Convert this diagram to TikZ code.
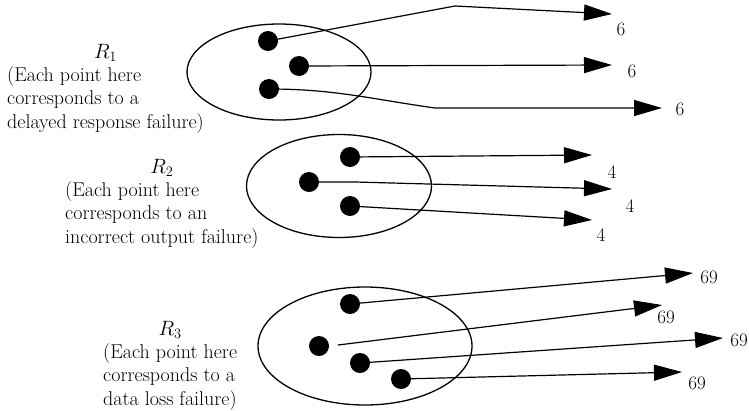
\documentclass[tikz,border=0pt]{standalone}
\usetikzlibrary{arrows.meta}
\usetikzlibrary{positioning}
\usetikzlibrary{shapes.geometric}
\tikzset{
  dot/.style={circle,fill,inner sep=0pt,minimum size=20pt},
  ell/.style={ellipse,draw,line width=1.3pt,inner sep=0pt},
  arr/.style={line width=1.2pt,-{Triangle[length=28pt,width=16pt]}},
  txt/.style={align=left,inner sep=0pt,font=\fontsize{20}{23.5}\selectfont},
  num/.style={inner sep=0pt,font=\fontsize{19}{20}\selectfont}
}
\begin{document}
\begin{tikzpicture}[x=1pt,y=-1pt]
    \useasboundingbox (0,0) rectangle (749,410);

    \node[txt,anchor=west] (t1) at (7,100) {(Each point here\\corresponds to a\\delayed response failure)};
    \node[txt,above=5pt of t1] (r1) {$R_1$};
    \node[ell,minimum width=184pt,minimum height=96pt] (e1) at (279,72) {};
    \node[dot] (d11) at (268,41) {};
    \node[dot] (d12) at (299,66) {};
    \node[dot] (d13) at (269,89) {};
    \coordinate (a11) at (612,14);
    \coordinate (a12) at (612,65);
    \coordinate (a13) at (662,108);
    \draw[arr] (d11.center) -- (455,6) -- (a11);
    \draw[arr] (d12.center) -- (a12);
    \draw[arr] (d13.center) to[out=0,in=172] (435,108) -- (a13);
    \node[num] (n11) at (621,29) {6};
    \node[num] (n12) at (632,71) {6};
    \node[num] (n13) at (680,109) {6};

    \node[txt,anchor=west] (t2) at (65,215) {(Each point here\\corresponds to an\\incorrect output failure)};
    \node[txt,above=5pt of t2] (r2) {$R_2$};
    \node[ell,minimum width=185pt,minimum height=103pt] (e2) at (339,186) {};
    \node[dot] (d21) at (350,157) {};
    \node[dot] (d22) at (309,182) {};
    \node[dot] (d23) at (350,206) {};
    \coordinate (a21) at (592,155);
    \coordinate (a22) at (612,189);
    \coordinate (a23) at (592,220);
    \draw[arr] (d21.center) -- (a21);
    \draw[arr] (d22.center) -- (355,182) -- (a22);
    \draw[arr] (d23.center) -- (a23);
    \node[num] (n21) at (612,172) {4};
    \node[num] (n22) at (630,206) {4};
    \node[num] (n23) at (601,235) {4};

    \node[txt,anchor=west] (t3) at (103,377) {(Each point here\\corresponds to a\\data loss failure)};
    \node[txt,above=5pt of t3] (r3) {$R_3$};
    \node[ell,minimum width=214pt,minimum height=118pt] (e3) at (365,346) {};
    \node[dot] (d31) at (350,304) {};
    \node[dot] (d32) at (319,346) {};
    \node[dot] (d33) at (360,363) {};
    \node[dot] (d34) at (401,379) {};
    \coordinate (s32) at (338,345);
    \coordinate (a31) at (693,273);
    \coordinate (a32) at (662,305);
    \coordinate (a33) at (723,338);
    \coordinate (a34) at (682,372);
    \draw[arr] (d31.center) -- (a31);
    \draw[arr] (s32) -- (a32);
    \draw[arr] (d33.center) -- (a33);
    \draw[arr] (d34.center) -- (a34);
    \node[num] (n31) at (709,277) {69};
    \node[num] (n32) at (666,317) {69};
    \node[num] (n33) at (739,340) {69};
    \node[num] (n34) at (697,383) {69};
\end{tikzpicture}
\end{document}
